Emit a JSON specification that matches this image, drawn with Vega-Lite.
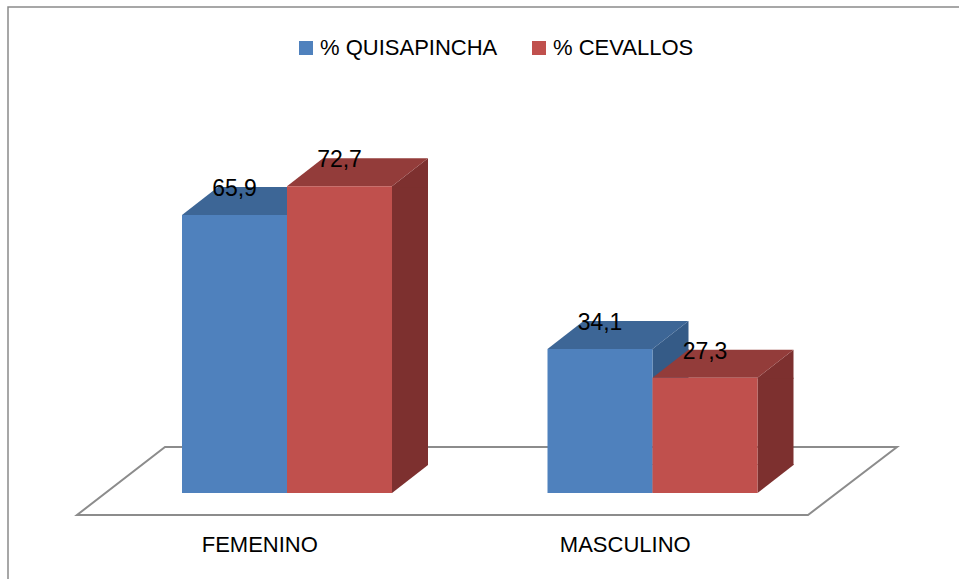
{
  "$schema": "https://vega.github.io/schema/vega-lite/v6.json",
  "autosize": {"type": "none"},
  "width": 953,
  "height": 574,
  "padding": {"left": 8, "top": 7, "right": -2, "bottom": -2},
  "background": "white",
  "config": {
    "view": {"stroke": "#8a8a8a", "strokeWidth": 1.5},
    "locale": {"number": {"decimal": ",", "thousands": ".", "grouping": [3], "currency": ["", " €"]}},
    "font": "Liberation Sans"
  },
  "data": {"values": [
    {"sexo": "FEMENINO", "grupo": "% QUISAPINCHA", "pct": 65.9},
    {"sexo": "FEMENINO", "grupo": "% CEVALLOS", "pct": 72.7},
    {"sexo": "MASCULINO", "grupo": "% QUISAPINCHA", "pct": 34.1},
    {"sexo": "MASCULINO", "grupo": "% CEVALLOS", "pct": 27.3}
  ]},
  "encoding": {
    "x": {"field": "sexo", "type": "nominal", "sort": null,
      "scale": {"domain": ["FEMENINO", "MASCULINO"], "range": [69, 800], "paddingInner": 0, "paddingOuter": 0},
      "axis": {"title": null, "domain": false, "ticks": false, "grid": false, "labelAngle": 0, "labelFontSize": 22, "labelColor": "black", "labelFont": "Liberation Sans", "offset": -49, "labelPadding": 2}
    }
  },
  "layer": [
    {
      "transform": [{"filter": "datum.sexo == 'FEMENINO' && datum.grupo == '% QUISAPINCHA'"}],
      "mark": {"type": "point", "shape": "M-182.75,22 L548.25,22 L637.25,-46 L-94.75,-46 Z", "size": 4, "filled": true, "fill": "white", "stroke": "#8c8c8c", "strokeWidth": 2, "opacity": 1},
      "encoding": {
        "y": {"datum": 0, "type": "quantitative", "scale": {"domain": [0, 100], "range": [486, 64], "nice": false, "zero": true}, "axis": null}
      }
    },
    {
      "mark": {"type": "rule", "strokeWidth": 36, "strokeCap": "butt", "y2Offset": -28},
      "encoding": {
        "xOffset": {"field": "grupo", "type": "nominal", "sort": null, "scale": {"type": "band", "domain": ["% QUISAPINCHA", "% CEVALLOS"], "range": [175.5, 385.5], "paddingInner": 0, "paddingOuter": 0}},
        "y": {"field": "pct", "type": "quantitative"},
        "y2": {"datum": 0},
        "color": {"field": "grupo", "type": "nominal", "scale": {"domain": ["% QUISAPINCHA", "% CEVALLOS"], "range": ["#355b87", "#7d302f"]}, "legend": null}
      }
    },
    {
      "mark": {"type": "point", "shape": "M52.5,0 L88.5,-28 L88.5,1 L52.5,1 Z", "size": 4, "filled": true, "opacity": 1, "strokeWidth": 0},
      "encoding": {
        "xOffset": {"field": "grupo", "type": "nominal", "sort": null, "scale": {"type": "band", "domain": ["% QUISAPINCHA", "% CEVALLOS"], "range": [105, 315], "paddingInner": 0, "paddingOuter": 0}},
        "y": {"field": "pct", "type": "quantitative"},
        "color": {"field": "grupo", "type": "nominal", "scale": {"domain": ["% QUISAPINCHA", "% CEVALLOS"], "range": ["#355b87", "#7d302f"]}, "legend": null}
      }
    },
    {
      "mark": {"type": "point", "shape": "M52.5,-29 L88.5,-29 L88.5,-28 L52.5,0 Z", "size": 4, "filled": true, "opacity": 1, "strokeWidth": 0},
      "encoding": {
        "xOffset": {"field": "grupo", "type": "nominal", "sort": null, "scale": {"type": "band", "domain": ["% QUISAPINCHA", "% CEVALLOS"], "range": [105, 315], "paddingInner": 0, "paddingOuter": 0}},
        "y": {"datum": 0, "type": "quantitative"},
        "color": {"field": "grupo", "type": "nominal", "scale": {"domain": ["% QUISAPINCHA", "% CEVALLOS"], "range": ["#355b87", "#7d302f"]}, "legend": null}
      }
    },
    {
      "mark": {"type": "point", "shape": "M-52.5,0 L52.5,0 L88.5,-28 L-16.5,-28 Z", "size": 4, "filled": true, "opacity": 1, "strokeWidth": 0},
      "encoding": {
        "xOffset": {"field": "grupo", "type": "nominal", "sort": null, "scale": {"type": "band", "domain": ["% QUISAPINCHA", "% CEVALLOS"], "range": [105, 315], "paddingInner": 0, "paddingOuter": 0}},
        "y": {"field": "pct", "type": "quantitative"},
        "color": {"field": "grupo", "type": "nominal", "scale": {"domain": ["% QUISAPINCHA", "% CEVALLOS"], "range": ["#3d6696", "#933c3a"]}, "legend": null}
      }
    },
    {
      "mark": {"type": "bar"},
      "encoding": {
        "xOffset": {"field": "grupo", "type": "nominal", "sort": null, "scale": {"type": "band", "domain": ["% QUISAPINCHA", "% CEVALLOS"], "range": [105, 315], "paddingInner": 0, "paddingOuter": 0}},
        "y": {"field": "pct", "type": "quantitative"},
        "y2": {"datum": 0},
        "color": {"field": "grupo", "type": "nominal", "scale": {"domain": ["% QUISAPINCHA", "% CEVALLOS"], "range": ["#4f81bd", "#c0504d"]},
          "legend": {"title": null, "orient": "none", "legendX": 287, "legendY": 30, "direction": "horizontal", "symbolType": "square", "symbolSize": 196, "symbolStrokeWidth": 0, "labelFontSize": 22, "labelFont": "Liberation Sans", "labelColor": "black", "labelOffset": 3, "columnPadding": 30, "labelLimit": 0}}
      }
    },
    {
      "mark": {"type": "text", "fontSize": 23, "baseline": "alphabetic", "align": "center", "dy": -19, "color": "black", "font": "Liberation Sans"},
      "encoding": {
        "xOffset": {"field": "grupo", "type": "nominal", "sort": null, "scale": {"type": "band", "domain": ["% QUISAPINCHA", "% CEVALLOS"], "range": [105, 315], "paddingInner": 0, "paddingOuter": 0}},
        "y": {"field": "pct", "type": "quantitative"},
        "text": {"field": "pct", "type": "quantitative", "format": ".1f"}
      }
    }
  ],
  "resolve": {"scale": {"color": "independent", "xOffset": "independent"}, "legend": {"color": "independent"}}
}
